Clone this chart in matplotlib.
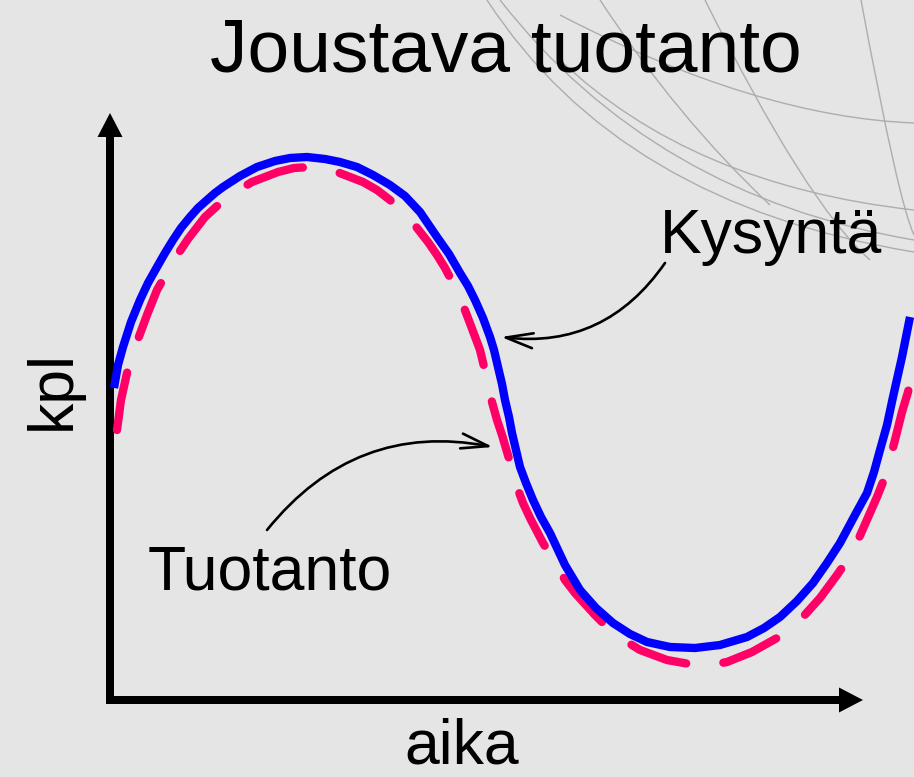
import matplotlib
matplotlib.use("Agg")
import matplotlib.pyplot as plt
from matplotlib.path import Path
from matplotlib.patches import PathPatch

plt.rcParams['font.family'] = ['Liberation Sans', 'DejaVu Sans']

# demand (Kysyntä) and production (Tuotanto)
# x = time, y = quantity (units: pixels from the axis origin)
kysynta_x = [4, 8, 13, 21, 30, 38, 47, 55, 63, 71, 80, 88, 97, 105, 113, 130, 147, 165,
             180, 197, 215, 230, 247, 263, 280, 295, 310, 327, 339, 350, 358, 365, 373,
             380, 384, 388, 392, 395, 399, 402, 406, 410, 416, 423, 431, 440, 455, 470,
             486, 503, 520, 537, 560, 585, 610, 637, 654, 670, 687, 703, 717, 730, 745,
             757, 764, 770, 777, 783, 792, 800]
kysynta_y = [312, 335, 353, 378, 400, 417, 433, 447, 460, 472, 483, 492, 500, 507, 513,
             524, 533, 539, 542, 543, 541, 538, 533, 525, 515, 504, 488, 463, 446, 427,
             414, 400, 382, 363, 350, 333, 316, 300, 283, 267, 250, 233, 217, 200, 183,
             167, 135, 110, 92, 77, 66, 58, 53, 52, 55, 63, 72, 83, 99, 117, 137, 157,
             185, 207, 228, 250, 275, 303, 343, 383]

tuotanto_x = [7, 11, 17, 22, 27, 37, 47, 55, 62, 78, 95, 106, 117, 142, 168, 184, 200,
              227, 253, 267, 280, 300, 318, 327, 335, 345, 353, 361, 370, 376, 382, 387,
              392, 400, 407, 413, 420, 433, 447, 455, 465, 485, 503, 517, 530, 557, 585,
              601, 617, 642, 667, 680, 692, 710, 727, 736, 745, 756, 767, 773, 778, 785,
              792, 798, 802]
tuotanto_y = [270, 300, 327, 344, 358, 385, 410, 424, 437, 461, 483, 493, 503, 518, 528,
              532, 533, 528, 518, 510, 500, 481, 458, 445, 432, 413, 395, 374, 350, 325,
              298, 280, 265, 238, 213, 197, 182, 157, 134, 120, 107, 85, 67, 58, 50, 40,
              35, 35, 38, 48, 62, 71, 82, 102, 125, 138, 153, 178, 203, 218, 233, 260,
              288, 308, 325]

title = 'Joustava tuotanto'
label_x = 'aika'
label_y = 'kpl'
label_kysynta = 'Kysyntä'
label_tuotanto = 'Tuotanto'

# decorative globe lines in the top right corner (start, passing point, end), pixels
globe_lines = [
    [(487, 0), (660, 165), (914, 252)],
    [(500, 0), (680, 158), (914, 240)],
    [(560, 60), (714, 160), (914, 210)],
    [(560, 15), (747, 93), (914, 123)],
    [(705, 0), (797, 167), (870, 260)],
    [(861, 0), (893, 160), (914, 235)],
    [(600, 0), (681, 110), (770, 205)],
]

bg = '#e5e5e5'
fig = plt.figure(figsize=(9.14, 7.77), dpi=100, facecolor=bg)

# background layer in pixel coordinates
back = fig.add_axes([0, 0, 1, 1])
back.set_xlim(0, 914)
back.set_ylim(777, 0)
back.axis('off')
back.set_facecolor(bg)

for s, m, e in globe_lines:
    c = (2 * m[0] - (s[0] + e[0]) / 2, 2 * m[1] - (s[1] + e[1]) / 2)
    p = Path([s, c, e], [Path.MOVETO, Path.CURVE3, Path.CURVE3])
    back.add_patch(PathPatch(p, fill=False, edgecolor='#adadad', lw=1.0))

back.text(506, 72, title, ha='center', va='baseline', fontsize=54)
back.text(660, 253, label_kysynta, ha='left', va='baseline', fontsize=45)
back.text(148, 590, label_tuotanto, ha='left', va='baseline', fontsize=45)
back.text(462, 776, label_x, ha='center', va='bottom', fontsize=45)
back.text(70, 390, label_y, ha='center', va='baseline', fontsize=45, rotation=90,
          rotation_mode='anchor')

# chart layer, origin at the corner of the axis arrows
ax = fig.add_axes([0, 0, 1, 1])
ax.set_xlim(-110, 804)
ax.set_ylim(-77, 700)
ax.axis('off')
ax.patch.set_alpha(0)

ax.arrow(-4, 0, 757, 0, width=8, head_width=25, head_length=24,
         length_includes_head=True, color='black', lw=0)
ax.arrow(0, -4, 0, 591, width=8, head_width=25, head_length=24,
         length_includes_head=True, color='black', lw=0)

ax.plot(tuotanto_x, tuotanto_y, color='#ff0066', lw=6, dashes=(7, 4.5),
        solid_capstyle='round', dash_capstyle='round', solid_joinstyle='round')
ax.plot(kysynta_x, kysynta_y, color='#0000ff', lw=6, solid_capstyle='butt',
        solid_joinstyle='round')

arrow_kw = dict(arrowstyle='->, head_length=0.65, head_width=0.18', lw=1.9,
                color='black', mutation_scale=30, shrinkA=0, shrinkB=0)
ax.annotate('', xy=(391, 363), xytext=(555, 437),
            arrowprops=dict(connectionstyle='arc3,rad=-0.3', **arrow_kw))
ax.annotate('', xy=(383, 253), xytext=(157, 170),
            arrowprops=dict(connectionstyle='arc3,rad=-0.3', **arrow_kw))

fig.savefig('out.png', dpi=100, facecolor=bg)
